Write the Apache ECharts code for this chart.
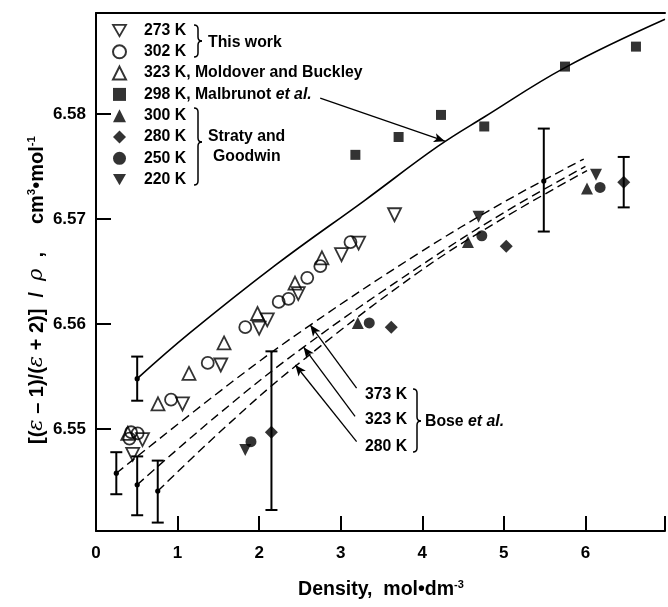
<!DOCTYPE html>
<html>
<head>
<meta charset="utf-8">
<script src="https://cdn.jsdelivr.net/npm/echarts@6/dist/echarts.min.js"></script>
<style>
  html, body { margin: 0; padding: 0; background: #fff; }
  #main { width: 668px; height: 607px; }
</style>
</head>
<body>
<div id="main"></div>
<script>
var FONT = '"Liberation Sans", Arial, Helvetica, sans-serif';
var FS = 15.8;

// tick labels
var densityTicks = [0, 1, 2, 3, 4, 5, 6];
var polTicks = [6.55, 6.56, 6.57, 6.58];

// this work
var this273 = [[0.45, 6.5476], [0.57, 6.5490], [1.06, 6.5524], [1.53, 6.5561], [2.00, 6.5596],
  [2.10, 6.5604], [2.48, 6.5629], [3.01, 6.5666], [3.22, 6.5677], [3.66, 6.5704]];
var this302 = [[0.41, 6.5491], [0.43, 6.5497], [0.51, 6.5496], [0.92, 6.5528], [1.37, 6.5563],
  [1.83, 6.5597], [2.24, 6.5621], [2.36, 6.5624], [2.59, 6.5644], [2.75, 6.5655], [3.12, 6.5678]];
// Moldover and Buckley
var moldover323 = [[0.39, 6.5496], [0.76, 6.5524], [1.14, 6.5553], [1.57, 6.5582], [1.98, 6.5610],
  [2.44, 6.5639], [2.77, 6.5663]];
// Malbrunot et al.
var malbrunot298 = [[3.18, 6.5761], [3.71, 6.5778], [4.23, 6.5799], [4.76, 6.5788], [5.75, 6.5845], [6.62, 6.5864]];
var malbrunotFit = [[0.505, 6.5548], [1.143, 6.5591], [2.2, 6.5656], [3.30, 6.5718], [4.19, 6.5769],
  [4.76, 6.5797], [5.75, 6.5844], [6.976, 6.5890]];
// Straty and Goodwin
var straty300 = [[3.21, 6.5601], [4.56, 6.5678], [6.02, 6.5729]];
var straty280 = [[2.15, 6.5497], [3.62, 6.5597], [5.03, 6.5674], [6.47, 6.5735]];
var straty250 = [[1.90, 6.5488], [3.35, 6.5601], [4.73, 6.5684], [6.18, 6.5730]];
var straty220 = [[1.83, 6.5480], [4.69, 6.5702], [6.13, 6.5742]];
// Bose et al.
var bose373 = [[0.249, 6.5458], [1.67, 6.5545], [2.627, 6.5599], [3.95, 6.5667], [5.0, 6.5716], [5.98, 6.5757]];
var bose323 = [[0.505, 6.5447], [1.5, 6.5514], [2.545, 6.5578], [3.95, 6.5654], [5.0, 6.5706], [6.0, 6.5750]];
var bose280 = [[0.757, 6.5441], [1.6, 6.5503], [2.447, 6.5560], [3.95, 6.5649], [5.0, 6.5701], [6.02, 6.5746]];
// error bars: x, centre, low, high, dot
var errorBars = [
  [0.249, 6.5458, 6.5438, 6.5478, 1],
  [0.505, 6.5447, 6.5418, 6.5474, 1],
  [0.757, 6.5441, 6.5411, 6.5470, 1],
  [0.505, 6.5548, 6.5527, 6.5569, 1],
  [2.151, 6.5497, 6.5423, 6.5574, 0],
  [5.49, 6.5736, 6.5688, 6.5786, 1],
  [6.47, 6.5735, 6.5711, 6.5759, 0]
];
// annotation arrows, tail -> tip
var arrowLines = [
  [[2.749, 6.5815], [4.277, 6.5774]],
  [[3.195, 6.5539], [2.627, 6.5599]],
  [[3.176, 6.5512], [2.545, 6.5578]],
  [[3.195, 6.5488], [2.444, 6.5561]]
];

var MAL = '298 K, Malbrunot et al.';
var DOWN_TRI = 'path://M0,0L2,0L1,1.732Z';

function hollow(name, data, symbol, size, rotate) {
  return {
    name: name, type: 'scatter', data: data, symbol: symbol, symbolSize: size,
    symbolRotate: rotate || 0,
    itemStyle: { color: 'rgba(0,0,0,0)', borderColor: '#000', borderWidth: 1.8 }
  };
}
function filled(name, data, symbol, size, rotate) {
  return {
    name: name, type: 'scatter', data: data, symbol: symbol, symbolSize: size,
    symbolRotate: rotate || 0,
    itemStyle: { color: '#000', borderColor: '#000', borderWidth: 0 }
  };
}
function dashed(data) {
  return {
    type: 'line', data: data, smooth: 0.4, showSymbol: false, silent: true,
    lineStyle: { color: '#000', width: 1.4, type: [9, 5] }
  };
}

// curly brace opening to the left, tip pointing right
function brace(x, y1, y2, ym, w) {
  var r = 4;
  var st = { stroke: '#000', lineWidth: 1.5, fill: null };
  function q(ax, ay, bx, by, cx, cy) {
    return { type: 'bezierCurve', shape: { x1: ax, y1: ay, x2: bx, y2: by, cpx1: cx, cpy1: cy }, style: st };
  }
  function l(ax, ay, bx, by) {
    return { type: 'line', shape: { x1: ax, y1: ay, x2: bx, y2: by }, style: st };
  }
  return {
    type: 'group', silent: true, children: [
      q(x, y1, x + w, y1 + r, x + w, y1),
      l(x + w, y1 + r, x + w, ym - r),
      q(x + w, ym - r, x + 2 * w, ym, x + w, ym),
      q(x + 2 * w, ym, x + w, ym + r, x + w, ym),
      l(x + w, ym + r, x + w, y2 - r),
      q(x + w, y2 - r, x, y2, x + w, y2)
    ]
  };
}
function label(text, x, y, extra) {
  var st = { text: text, fill: '#000', font: 'bold ' + FS + 'px ' + FONT, verticalAlign: 'middle' };
  if (extra) for (var k in extra) st[k] = extra[k];
  return { type: 'text', silent: true, x: x, y: y, style: st };
}
var richItalic = { i: { fontStyle: 'italic', fontWeight: 'bold', fontSize: FS, fontFamily: FONT } };

var chart = echarts.init(document.getElementById('main'));

var option = {
  backgroundColor: '#fff',
  animation: false,
  grid: { left: 96, right: 0, top: 13, bottom: 76 },
  xAxis: [{
    type: 'value', min: 0, max: 6.976, interval: 1,
    axisLine: { lineStyle: { color: '#000', width: 2 } },
    axisTick: { inside: true, length: 15, lineStyle: { color: '#000', width: 2 } },
    axisLabel: {
      margin: 14, color: '#000', fontSize: 17, fontWeight: 'bold', fontFamily: FONT,
      formatter: function (v) { return densityTicks.indexOf(v) >= 0 ? String(v) : ''; }
    },
    splitLine: { show: false }
  }, {
    type: 'value', position: 'top', min: 0, max: 6.976,
    axisLine: { show: true, lineStyle: { color: '#000', width: 2 } },
    axisTick: { show: false }, axisLabel: { show: false }, splitLine: { show: false }
  }],
  yAxis: {
    type: 'value', min: 6.5403, max: 6.5896,
    axisLine: { show: true, lineStyle: { color: '#000', width: 2 } },
    axisTick: { inside: true, length: 15, customValues: polTicks, lineStyle: { color: '#000', width: 2 } },
    axisLabel: {
      margin: 10, color: '#000', fontSize: 17, fontWeight: 'bold', fontFamily: FONT,
      customValues: polTicks, formatter: function (v) { return v.toFixed(2); }
    },
    splitLine: { show: false }
  },
  legend: {
    orient: 'vertical', left: 112, top: 22.5, padding: 0,
    itemWidth: 13, itemHeight: 13, itemGap: 5.3, selectedMode: false,
    data: [
      { name: '273 K', icon: DOWN_TRI,
        itemStyle: { color: 'rgba(0,0,0,0)', borderColor: '#000', borderWidth: 1.8 } },
      '302 K', '323 K, Moldover and Buckley', MAL, '300 K', '280 K', '250 K',
      { name: '220 K', icon: DOWN_TRI, itemStyle: { color: '#000', borderWidth: 0 } }
    ],
    formatter: function (n) { return n === MAL ? '298 K, Malbrunot {i|et al.}' : n; },
    textStyle: {
      color: '#000', fontSize: FS, fontWeight: 'bold', fontFamily: FONT,
      padding: [0, 0, 0, 13], rich: richItalic
    }
  },
  graphic: [
    brace(194, 25, 57, 41, 4),
    label('This work', 208, 43),
    brace(194, 108, 185, 142, 4),
    label('Straty and', 208, 137),
    label('Goodwin', 213, 157),
    label('373 K', 365, 395),
    label('323 K', 365, 420),
    label('280 K', 365, 447),
    brace(413, 389, 452, 421, 4),
    label('Bose {i|et al.}', 425, 422, { rich: richItalic }),
    { type: 'text', silent: true, x: 37, y: 290, rotation: Math.PI / 2,
      style: {
        text: '[({g|ε} – 1)/({g|ε} + 2)]  /  {g|ρ}  ,     cm{s|3}•mol{s|-1}',
        fill: '#000', font: 'bold 20px ' + FONT, align: 'center', verticalAlign: 'middle',
        rich: {
          g: { fontStyle: 'italic', fontSize: 21, fontFamily: '"DejaVu Serif", serif' },
          s: { fontSize: 11.5, fontWeight: 'bold', fontFamily: FONT, padding: [0, 0, 11, 0] }
        }
      } },
    { type: 'text', silent: true, x: 381, y: 590,
      style: {
        text: 'Density,  mol•dm{s|-3}', fill: '#000', font: 'bold 19.5px ' + FONT,
        align: 'center', verticalAlign: 'middle',
        rich: { s: { fontSize: 11, fontWeight: 'bold', fontFamily: FONT, padding: [0, 0, 11, 0] } }
      } }
  ],
  series: [
    {
      type: 'custom', silent: true, data: errorBars,
      encode: { x: 0, y: [1, 2, 3] },
      renderItem: function (params, api) {
        var x = api.value(0);
        var c = api.coord([x, api.value(1)]);
        var lo = api.coord([x, api.value(2)]);
        var hi = api.coord([x, api.value(3)]);
        var st = { stroke: '#000', lineWidth: 2 };
        var kids = [
          { type: 'line', shape: { x1: lo[0], y1: lo[1], x2: hi[0], y2: hi[1] }, style: st },
          { type: 'line', shape: { x1: lo[0] - 6, y1: lo[1], x2: lo[0] + 6, y2: lo[1] }, style: st },
          { type: 'line', shape: { x1: hi[0] - 6, y1: hi[1], x2: hi[0] + 6, y2: hi[1] }, style: st }
        ];
        if (api.value(4)) {
          kids.push({ type: 'circle', shape: { cx: c[0], cy: c[1], r: 2.6 }, style: { fill: '#000' } });
        }
        return { type: 'group', children: kids };
      }
    },
    {
      type: 'line', data: malbrunotFit, smooth: 0.4, showSymbol: false, silent: true,
      lineStyle: { color: '#000', width: 1.6 },
      markLine: {
        silent: true, symbol: ['none', 'arrow'], symbolSize: [7, 11],
        label: { show: false },
        lineStyle: { color: '#000', width: 1.3, type: 'solid' },
        data: arrowLines.map(function (a) {
          return [{ coord: a[0] }, { coord: a[1] }];
        })
      }
    },
    dashed(bose373),
    dashed(bose323),
    dashed(bose280),
    hollow('273 K', this273, 'triangle', 13, 180),
    hollow('302 K', this302, 'circle', 12),
    hollow('323 K, Moldover and Buckley', moldover323, 'triangle', 13),
    filled(MAL, malbrunot298, 'rect', 10),
    filled('300 K', straty300, 'triangle', 12),
    filled('280 K', straty280, 'diamond', 13),
    filled('250 K', straty250, 'circle', 11),
    filled('220 K', straty220, 'triangle', 12, 180)
  ]
};

chart.setOption(option);
</script>
</body>
</html>
